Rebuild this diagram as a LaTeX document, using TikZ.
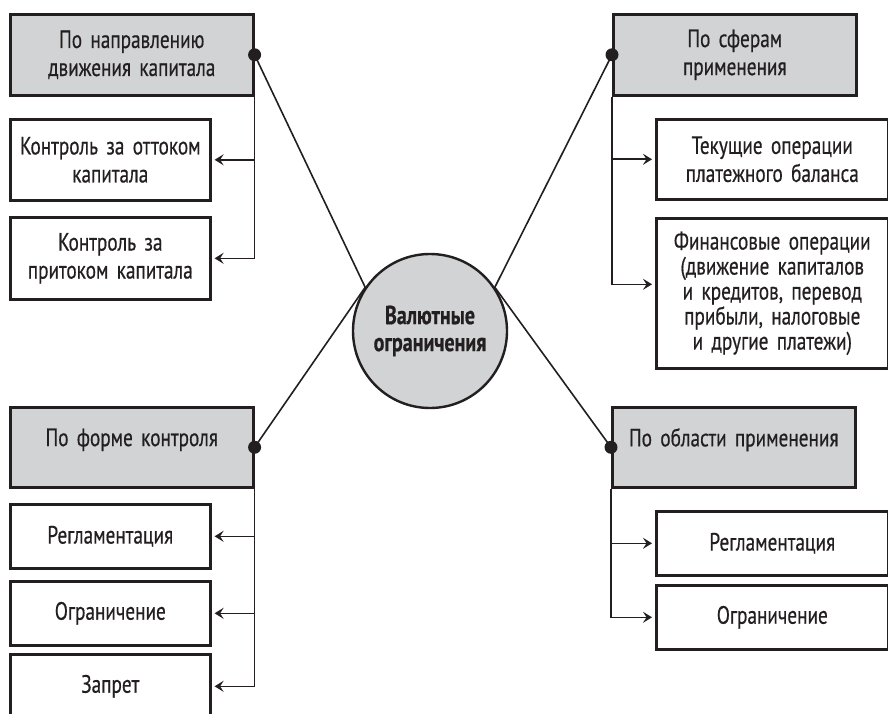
\documentclass[tikz,border=0pt]{standalone}
\usepackage{fontspec}
\setmainfont[FakeStretch=0.77, FakeBold=0.5]{PT Sans}
\usetikzlibrary{arrows.meta,calc}

\definecolor{ink}{RGB}{35,31,32}
\definecolor{panel}{RGB}{209,211,212}
\tikzset{
  hdr/.style={draw=ink, fill=panel, line width=2.6pt, minimum width=243pt,
    minimum height=81pt, text width=236pt, align=center, inner sep=0pt,
    anchor=north west},
  leaf/.style={draw=ink, fill=white, line width=2.6pt, minimum width=200pt,
    minimum height=64pt, text width=196pt, align=center, inner sep=0pt,
    anchor=north west},
  link/.style={draw=ink, line width=1.6pt},
  tip/.style={link, -{Stealth[length=9pt,width=11pt,inset=3.5pt]}, shorten >=3pt},
}

\begin{document}
\begin{tikzpicture}[x=1pt, y=-1pt, text=ink, font=\fontsize{25}{28}\selectfont]
  \useasboundingbox (0,0) rectangle (888,714);

  % центр
  \node[circle, draw=ink, fill=panel, line width=2.4pt, minimum size=154pt,
    inner sep=0pt, align=center, font=\bfseries\fontsize{26}{27}\selectfont]
    (core) at (430,331) {Валютные\\ограничения};

  % верхний левый блок
  \node[hdr] (dir) at (9,13) {По направлению\\движения капитала};
  \node[leaf, minimum height=81pt] (out) at (9,118) {Контроль за оттоком\\капитала};
  \node[leaf, minimum height=82pt] (in) at (9,216) {Контроль за\\притоком капитала};

  % верхний правый блок
  \node[hdr] (sph) at (612,13) {По сферам\\применения};
  \node[leaf, minimum width=232pt, minimum height=80pt, text width=228pt]
    (cur) at (655,118) {Текущие операции\\платежного баланса};
  \node[leaf, minimum width=232pt, minimum height=150pt, text width=228pt,
    font=\fontsize{25}{25}\selectfont]
    (fin) at (655,217) {Финансовые операции\\(движение капиталов\\и кредитов, перевод\\прибыли, налоговые\\и другие платежи)};

  % нижний левый блок
  \node[hdr, minimum height=80pt, text depth=20pt] (form) at (9,406) {По форме контроля};
  \node[leaf] (regL) at (9,503) {Регламентация};
  \node[leaf] (limL) at (9,580) {Ограничение};
  \node[leaf] (ban) at (9,653) {Запрет};

  % нижний правый блок
  \node[hdr, minimum height=80pt, text depth=20pt] (area) at (611,406) {По области применения};
  \node[leaf, minimum width=232pt] (regR) at (655,510) {Регламентация};
  \node[leaf, minimum width=232pt] (limR) at (655,584) {Ограничение};

  % связи с центром
  \draw[link] (dir.east) -- (core.146);
  \draw[link] (form.east) -- (core.146);
  \draw[link] (sph.west) -- (core.34);
  \draw[link] (area.west) -- (core.34);
  \fill[ink] (dir.east) circle (6.5pt);
  \fill[ink] (form.east) circle (6.5pt);
  \fill[ink] (sph.west) circle (6.5pt);
  \fill[ink] (area.west) circle (6.5pt);

  % стрелки
  \draw[tip] (dir.south east) |- (in.east);
  \draw[tip] (out.east -| dir.south east) -- (out.east);
  \draw[tip] (sph.south west) |- ($(fin.west)+(0,-9)$);
  \draw[tip] (cur.west -| sph.south west) -- (cur.west);
  \draw[tip] (form.south east) |- (ban.east);
  \draw[tip] (regL.east -| form.south east) -- (regL.east);
  \draw[tip] (limL.east -| form.south east) -- (limL.east);
  \draw[tip] (area.south west) |- (limR.west);
  \draw[tip] (regR.west -| area.south west) -- (regR.west);
\end{tikzpicture}
\end{document}
